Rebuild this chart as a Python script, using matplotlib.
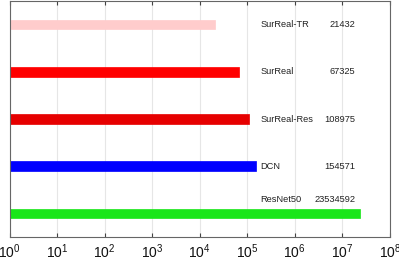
import numpy as np
import matplotlib
matplotlib.use('Agg')
import matplotlib.pyplot as plt
from matplotlib.ticker import FixedLocator, FuncFormatter, NullLocator

plt.rcParams['font.family'] = ['Liberation Sans', 'DejaVu Sans']
plt.rcParams['mathtext.fontset'] = 'custom'
plt.rcParams['mathtext.rm'] = 'Liberation Sans'
plt.rcParams['mathtext.it'] = 'Liberation Sans'

# models listed bottom to top
models = ['ResNet50', 'DCN', 'SurReal-Res', 'SurReal', 'SurReal-TR']
params = [23534592, 154571, 108975, 67325, 21432]
colors = ['#1ae61a', '#0000ff', '#e60000', '#ff0000', '#ffcccc']

fig = plt.figure(figsize=(3.99, 2.59), dpi=100)
ax = fig.add_axes([0.024, 0.085, 0.953, 0.911])

ypos = np.arange(1, len(models) + 1)
for y, name, p, c in zip(ypos, models, params, colors):
    ax.barh(y, p, left=1, height=0.2, color=c, edgecolor=c, lw=0.5, zorder=2)
    # text sits above the bar if the bar runs past the label
    ty = y + 0.3 if p > 1e6 else y
    ax.text(10 ** 5.28, ty, name, fontsize=6.7,
            va='center', ha='left', color='#222222', zorder=3)
    ax.text(10 ** 7.28, ty, str(p), fontsize=6.7, va='center', ha='right',
            color='#222222', zorder=3)

ax.set_xscale('log')
ax.set_xlim(1, 1e8)
ax.set_ylim(0.5, 5.5)
ax.xaxis.set_major_locator(FixedLocator([10 ** k for k in range(9)]))
ax.xaxis.set_minor_locator(NullLocator())
ax.xaxis.set_major_formatter(FuncFormatter(lambda v, _: r'$10^{%d}$' % round(np.log10(v))))
ax.yaxis.set_major_locator(NullLocator())
ax.tick_params(axis='x', direction='in', top=True, length=3, width=0.8,
               color='#444444', labelsize=10, pad=4, labelcolor='#111111')
ax.grid(axis='x', color='#e6e6e6', lw=0.8, zorder=0)
for s in ax.spines.values():
    s.set_color('#666666')
    s.set_linewidth(0.8)

fig.savefig('out.png', dpi=100)
